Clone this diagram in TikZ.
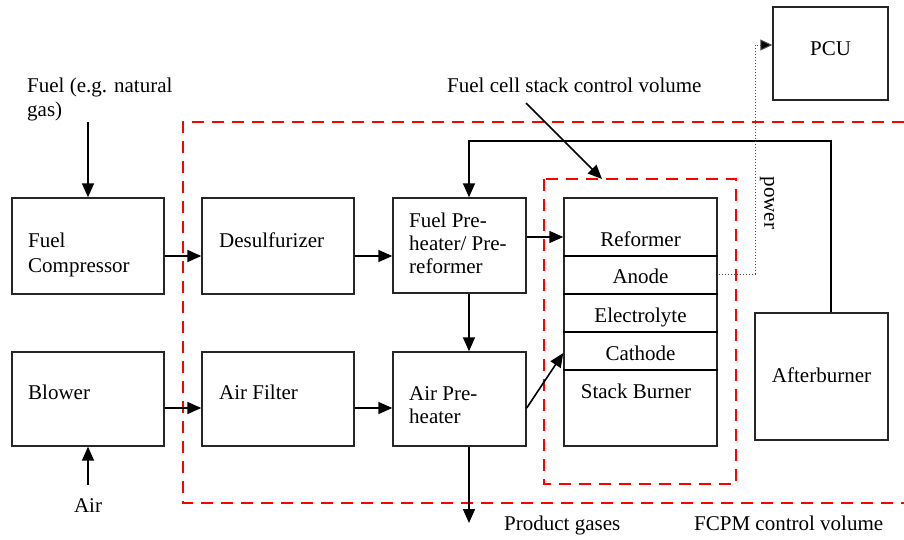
\documentclass[tikz,border=0pt]{standalone}
\usepackage{fontspec}
\setmainfont{Liberation Serif}
\usetikzlibrary{arrows.meta,calc}
\begin{document}
\begin{tikzpicture}[x=1pt,y=-1pt,
  box/.style={draw=black!85,line width=1.4pt,minimum width=#1,inner sep=0pt,fill=none},
  box/.default=152pt,
  lbl/.style={font=\fontsize{21}{24}\selectfont,inner sep=0pt,anchor=base west,align=left},
  clbl/.style={font=\fontsize{21}{24}\selectfont,inner sep=0pt,anchor=base},
  arr/.style={line width=1.6pt,-{Triangle[length=14pt,width=12pt]}},
  ln/.style={line width=1.4pt},
  cv/.style={draw=red,line width=2pt,dash pattern=on 12pt off 8pt},
  pw/.style={draw=black!70,line width=1pt,dotted,-{Triangle[length=12pt,width=11pt,fill=black]}}
]
\useasboundingbox (0,0) rectangle (904,539);
% control volumes
\draw[cv] (904,122) -- (183,122) -- (183,503) -- (904,503);
\draw[cv] (544,179) rectangle (736,484);
% boxes
\node[box,minimum height=96pt] (fc) at (88,246) {};
\node[box,minimum height=96pt] (ds) at (278,246) {};
\node[box=133pt,minimum height=95pt] (fph) at (459.5,245.5) {};
\node[box,minimum height=94pt] (bl) at (88,399) {};
\node[box,minimum height=94pt] (af) at (278,399) {};
\node[box=133pt,minimum height=94pt] (aph) at (459.5,399) {};
\node[box=153pt,minimum height=248pt] (stack) at (640.5,322) {};
\node[box=115pt,minimum height=93pt] (pcu) at (830.5,53.5) {};
\node[box=133pt,minimum height=127pt] (ab) at (821.5,376.5) {};
% stack dividers
\foreach \yy in {256,294,332,370} \draw[ln] (stack.west |- 0,\yy) -- (stack.east |- 0,\yy);
% texts
\node[lbl] (tfc1) at (28,247) {Fuel};
\node[lbl] (tfc2) at (28,272) {Compressor};
\node[lbl] (tds) at (219,247) {Desulfurizer};
\node[lbl] (tfph1) at (409,227) {Fuel Pre-};
\node[lbl] (tfph2) at (409,250) {heater/ Pre-};
\node[lbl] (tfph3) at (409,273) {reformer};
\node[lbl] (tbl) at (28,399) {Blower};
\node[lbl] (taf) at (219,399) {Air Filter};
\node[lbl] (taph1) at (409,400) {Air Pre-};
\node[lbl] (taph2) at (409,423) {heater};
\node[clbl] (tref) at (640.5,246) {Reformer};
\node[clbl] (tan) at (640.5,283) {Anode};
\node[clbl] (tel) at (640.5,322) {Electrolyte};
\node[clbl] (tca) at (640.5,360) {Cathode};
\node[clbl] (tsb) at (636,398) {Stack Burner};
\node[clbl] (tab) at (821.5,382) {Afterburner};
\node[clbl] (tpcu) at (830.5,55) {PCU};
\node[lbl] (tfuel1) at (27,92) {Fuel (e.g. natural};
\node[lbl] (tfuel2) at (27,116) {gas)};
\node[clbl] (tair) at (88,512) {Air};
\node[lbl] (tprod) at (504,530) {Product gases};
\node[lbl] (tfcpm) at (694,530) {FCPM control volume};
\node[lbl] (tfcs) at (447,92) {Fuel cell stack control volume};
\node[font=\fontsize{21}{24}\selectfont,inner sep=0pt,rotate=-90] (tpow) at (767,203) {power};
% coordinates
\coordinate (fuelsrc) at (88,122);
\coordinate (airsrc) at (88,485);
\coordinate (prod) at (469,523);
\coordinate (fcsA) at (526,103);
\coordinate (fcsB) at (602,179);
\coordinate (abtop) at (831,141);
% connectors
\draw[arr] (fuelsrc) -- (fc.north);
\draw[arr] (airsrc) -- (bl.south);
\draw[arr] (fc.east |- 0,256) -- (ds.west |- 0,256);
\draw[arr] (ds.east |- 0,256) -- (fph.west |- 0,256);
\draw[arr] (fph.east |- 0,237) -- (stack.west |- 0,237);
\draw[arr] (bl.east |- 0,408) -- (af.west |- 0,408);
\draw[arr] (af.east |- 0,408) -- (aph.west |- 0,408);
\draw[arr] (aph.east |- 0,408) -- (stack.west |- 0,353);
\draw[arr] ([xshift=9.5pt]fph.south) -- ([xshift=9.5pt]aph.north);
\draw[arr] ([xshift=9.5pt]aph.south) -- (prod);
\draw[arr] (ab.north -| abtop) -- (abtop) -| ([xshift=9.5pt]fph.north);
\draw[arr] (fcsA) -- (fcsB);
\draw[pw] ([xshift=1pt]stack.east |- 0,274) -- (755,274) -- (755,45) -- (pcu.west |- 0,45);
\end{tikzpicture}
\end{document}
